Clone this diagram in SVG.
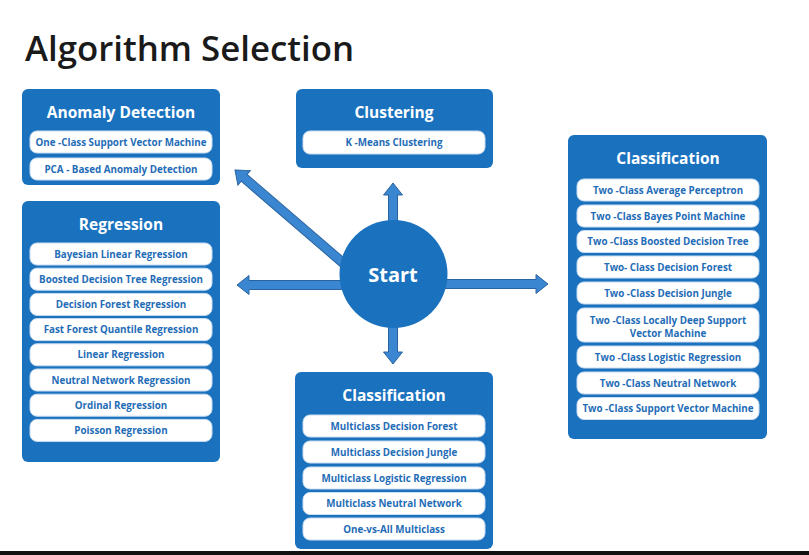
<svg xmlns="http://www.w3.org/2000/svg" width="809" height="555" viewBox="0 0 809 555">
<style>
.box{fill:#1a72bf}
.pill{fill:#ffffff;stroke:#c9dcf0;stroke-width:1}
.hd{font-family:"Open Sans","DejaVu Sans",sans-serif;font-weight:700;font-size:15.5px;fill:#ffffff;text-anchor:middle}
.it{font-family:"Open Sans","DejaVu Sans",sans-serif;font-weight:700;font-size:9.8px;fill:#1f6db7;text-anchor:middle}
.arr{fill:#3a86d0;stroke:#2a64a0;stroke-width:1}
</style>
<rect width="809" height="555" fill="#ffffff"/>
<text x="25" y="61" font-family="'Open Sans','DejaVu Sans',sans-serif" font-weight="600" font-size="34.8" fill="#1a1a1a">Algorithm Selection</text>

<g id="connectors">
<polygon class="arr" transform="translate(393,183) rotate(90)" points="0,0 12,-9.5 12,-4.5 45,-4.5 45,4.5 12,4.5 12,9.5"/>
<polygon class="arr" transform="translate(393,364) rotate(-90)" points="0,0 12,-9.5 12,-4.5 44,-4.5 44,4.5 12,4.5 12,9.5"/>
<polygon class="arr" transform="translate(237,285)" points="0,0 12,-9.5 12,-4.5 110,-4.5 110,4.5 12,4.5 12,9.5"/>
<polygon class="arr" transform="translate(548,284) rotate(180)" points="0,0 12,-9.5 12,-4.5 110,-4.5 110,4.5 12,4.5 12,9.5"/>
<polygon class="arr" transform="translate(235,170) rotate(40.7)" points="0,0 12,-9.5 12,-4.5 145,-4.5 145,4.5 12,4.5 12,9.5"/>
</g>

<g id="start">
<circle cx="393.5" cy="274" r="54" class="box"/>
<text x="393" y="282" font-family="'Open Sans','DejaVu Sans',sans-serif" font-weight="700" font-size="20" fill="#ffffff" text-anchor="middle">Start</text>
</g>

<g id="anomaly">
<rect class="box" x="22" y="89" width="198" height="96" rx="6"/>
<text class="hd" x="121" y="118">Anomaly Detection</text>
<rect class="pill" x="30" y="131" width="182" height="22" rx="7"/>
<text class="it" x="121" y="145.5">One -Class Support Vector Machine</text>
<rect class="pill" x="30" y="158" width="182" height="22" rx="7"/>
<text class="it" x="121" y="172.5">PCA - Based Anomaly Detection</text>
</g>

<g id="clustering">
<rect class="box" x="296" y="89" width="197" height="79" rx="6"/>
<text class="hd" x="394" y="118">Clustering</text>
<rect class="pill" x="303" y="131" width="182" height="23" rx="7"/>
<text class="it" x="394" y="146">K -Means Clustering</text>
</g>

<g id="regression">
<rect class="box" x="22" y="201" width="198" height="261" rx="6"/>
<text class="hd" x="121" y="230">Regression</text>
<rect class="pill" x="30" y="243" width="182" height="22" rx="7"/>
<text class="it" x="121" y="257.5">Bayesian Linear Regression</text>
<rect class="pill" x="30" y="268.2" width="182" height="22" rx="7"/>
<text class="it" x="121" y="282.7">Boosted Decision Tree Regression</text>
<rect class="pill" x="30" y="293.4" width="182" height="22" rx="7"/>
<text class="it" x="121" y="307.9">Decision  Forest  Regression</text>
<rect class="pill" x="30" y="318.6" width="182" height="22" rx="7"/>
<text class="it" x="121" y="333.1">Fast Forest Quantile  Regression</text>
<rect class="pill" x="30" y="343.8" width="182" height="22" rx="7"/>
<text class="it" x="121" y="358.3">Linear Regression</text>
<rect class="pill" x="30" y="369" width="182" height="22" rx="7"/>
<text class="it" x="121" y="383.5">Neutral Network Regression</text>
<rect class="pill" x="30" y="394.2" width="182" height="22" rx="7"/>
<text class="it" x="121" y="408.7">Ordinal  Regression</text>
<rect class="pill" x="30" y="419.4" width="182" height="22" rx="7"/>
<text class="it" x="121" y="433.9">Poisson Regression</text>
</g>

<g id="classification-two">
<rect class="box" x="568" y="135" width="199" height="304" rx="6"/>
<text class="hd" x="668" y="164">Classification</text>
<rect class="pill" x="577" y="179" width="182" height="22" rx="7"/>
<text class="it" x="668" y="193.5">Two -Class Average Perceptron</text>
<rect class="pill" x="577" y="205" width="182" height="22" rx="7"/>
<text class="it" x="668" y="219.5">Two -Class Bayes Point Machine</text>
<rect class="pill" x="577" y="230.5" width="182" height="22" rx="7"/>
<text class="it" x="668" y="245">Two -Class Boosted Decision Tree</text>
<rect class="pill" x="577" y="256" width="182" height="22" rx="7"/>
<text class="it" x="668" y="270.5">Two- Class Decision Forest</text>
<rect class="pill" x="577" y="282" width="182" height="22" rx="7"/>
<text class="it" x="668" y="296.5">Two -Class Decision Jungle</text>
<rect class="pill" x="577" y="308" width="182" height="34" rx="7"/>
<text class="it" x="668" y="324">Two -Class Locally Deep Support</text>
<text class="it" x="668" y="336.5">Vector Machine</text>
<rect class="pill" x="577" y="346" width="182" height="22" rx="7"/>
<text class="it" x="668" y="360.5">Two -Class Logistic Regression</text>
<rect class="pill" x="577" y="372" width="182" height="22" rx="7"/>
<text class="it" x="668" y="386.5">Two -Class Neutral Network</text>
<rect class="pill" x="577" y="397.5" width="182" height="22" rx="7"/>
<text class="it" x="668" y="412">Two -Class Support Vector Machine</text>
</g>

<g id="classification-multi">
<rect class="box" x="295" y="372" width="198" height="177" rx="6"/>
<text class="hd" x="394" y="401">Classification</text>
<rect class="pill" x="303" y="415" width="182" height="22" rx="7"/>
<text class="it" x="394" y="429.5">Multiclass Decision Forest</text>
<rect class="pill" x="303" y="441" width="182" height="22" rx="7"/>
<text class="it" x="394" y="455.5">Multiclass Decision  Jungle</text>
<rect class="pill" x="303" y="467" width="182" height="22" rx="7"/>
<text class="it" x="394" y="481.5">Multiclass Logistic Regression</text>
<rect class="pill" x="303" y="492.5" width="182" height="22" rx="7"/>
<text class="it" x="394" y="507">Multiclass Neutral Network</text>
<rect class="pill" x="303" y="518" width="182" height="22" rx="7"/>
<text class="it" x="394" y="532.5">One-vs-All Multiclass</text>
</g>

<rect x="0" y="551" width="809" height="4" fill="#111111"/>
</svg>
